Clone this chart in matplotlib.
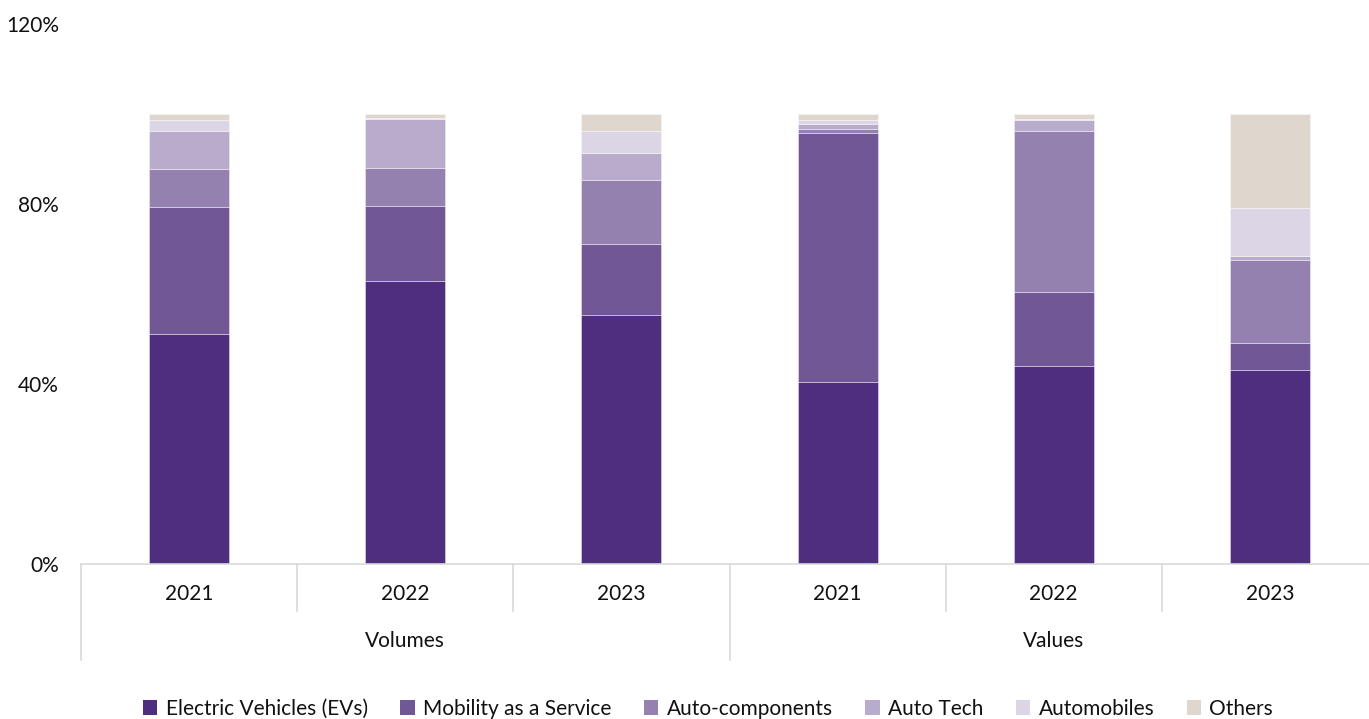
import numpy as np
import matplotlib
matplotlib.use("Agg")
import matplotlib.pyplot as plt
from matplotlib.patches import Patch

plt.rcParams['font.family'] = ['Lato', 'DejaVu Sans']

years = ["2021", "2022", "2023", "2021", "2022", "2023"]
groups = ["Volumes", "Values"]

segments = ["Electric Vehicles (EVs)", "Mobility as a Service", "Auto-components",
            "Auto Tech", "Automobiles", "Others"]

# share of each segment, in %, per bar
ev = [51.2, 62.9, 55.4, 40.5, 44.0, 43.1]
maas = [28.1, 16.7, 15.6, 55.3, 16.5, 6.0]
auto_comp = [8.4, 8.4, 14.4, 0.9, 35.8, 18.4]
auto_tech = [8.6, 10.8, 6.0, 1.0, 2.4, 1.0]
automobiles = [2.4, 0.3, 4.9, 1.0, 0.2, 10.6]
others = [1.3, 0.9, 3.7, 1.3, 1.1, 20.9]

colors = ["#4f2d7f", "#725797", "#9581b0", "#b9abcb", "#dcd5e5", "#dfd7cd"]
txt = "#111111"
fs = 15

fig = plt.figure(figsize=(13.69, 7.19), dpi=100)
ax = fig.add_axes([81 / 1369, 1 - 564 / 719, 1297 / 1369, 540 / 719])

x = np.arange(len(years))
bottom = np.zeros(len(years))
for name, vals, c in zip(segments, [ev, maas, auto_comp, auto_tech, automobiles, others], colors):
    ax.bar(x, vals, width=0.37, bottom=bottom, color=c, edgecolor=(1, 1, 1, 0.45),
           linewidth=0.6, label=name)
    bottom += np.array(vals)

ax.set_xlim(-0.5, 5.5)
ax.set_ylim(0, 120)
ax.set_yticks([0, 40, 80, 120])
ax.set_yticklabels(["0%", "40%", "80%", "120%"])
ax.tick_params(axis="y", length=0, pad=16, labelsize=fs, colors=txt)
ax.set_xticks([])

for s in ["top", "right", "left"]:
    ax.spines[s].set_visible(False)
ax.spines["bottom"].set_color("#d9d9d9")
ax.spines["bottom"].set_linewidth(1.2)

# two-level category axis
trans = ax.get_xaxis_transform()
line_kw = dict(color="#d9d9d9", lw=1.2, transform=trans, clip_on=False)
for xb in [-0.5, 2.5]:
    ax.plot([xb, xb], [0, -0.178], **line_kw)
for xb in [0.5, 1.5, 3.5, 4.5]:
    ax.plot([xb, xb], [0, -0.087], **line_kw)

for xi, yr in zip(x, years):
    ax.text(xi, -0.056, yr, transform=trans, ha="center", va="center",
            fontsize=fs, color=txt)
for gi, g in enumerate(groups):
    ax.text(1 + 3 * gi, -0.143, g, transform=trans, ha="center", va="center",
            fontsize=fs, color=txt)

handles = [Patch(facecolor=c, edgecolor="none") for c in colors]
fig.legend(handles, segments, loc="center", bbox_to_anchor=(708 / 1369, 10 / 719),
           ncol=6, frameon=False, fontsize=fs, handlelength=0.7, handleheight=0.7,
           handletextpad=0.4, columnspacing=1.55, labelcolor=txt)

fig.savefig("out.png", dpi=100)
